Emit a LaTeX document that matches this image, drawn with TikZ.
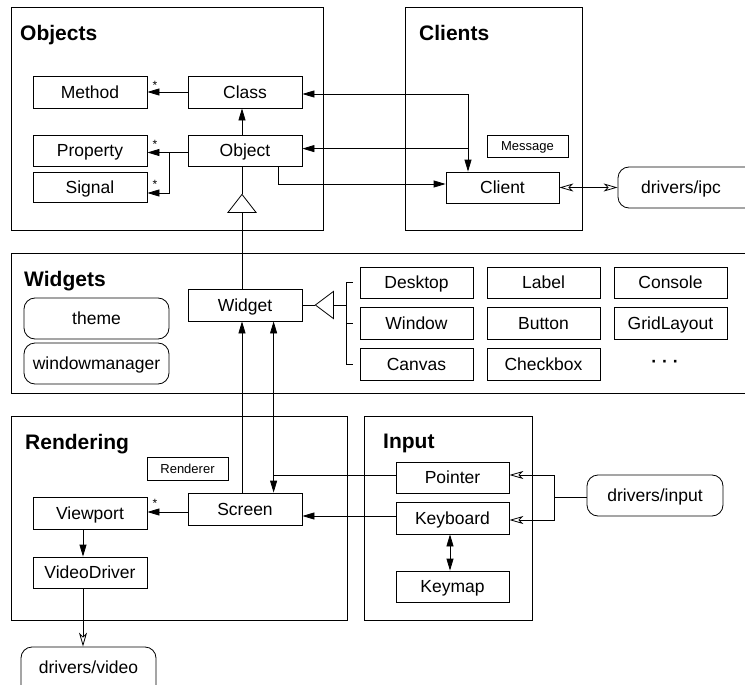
\documentclass[tikz,border=0pt]{standalone}
\usepackage{fontspec}
\setmainfont{Liberation Sans}
\usetikzlibrary{arrows.meta,calc}
\begin{document}
\begin{tikzpicture}[x=1pt,y=-1pt,
  frame/.style={draw, line width=0.9pt, inner sep=0pt},
  box/.style={draw, line width=0.8pt, fill=white, inner sep=0pt,
    minimum width=114pt, minimum height=32pt, text height=12.5pt, text depth=0pt,
    font=\fontsize{17.5}{20}\selectfont},
  smallbox/.style={draw, line width=0.8pt, inner sep=0pt,
    minimum width=81pt, minimum height=23pt, text height=9.4pt, text depth=0pt,
    font=\fontsize{13}{15}\selectfont},
  drv/.style={draw, rounded corners=11pt, line width=0.8pt, inner sep=0pt,
    minimum height=41pt, text height=12.5pt, text depth=0pt,
    font=\fontsize{17.5}{20}\selectfont},
  drvtext/.style={inner sep=0pt, text height=12.5pt, text depth=0pt,
    font=\fontsize{17.5}{20}\selectfont},
  title/.style={anchor=west, inner sep=0pt, text height=15pt, text depth=0pt,
    font=\fontsize{21}{24}\selectfont\bfseries},
  mult/.style={inner sep=0pt, font=\fontsize{12}{12}\selectfont},
  conn/.style={line width=0.8pt},
  arr/.style={-{Triangle[length=12pt,width=7pt]}},
  darr/.style={{Triangle[length=12pt,width=7pt]}-{Triangle[length=12pt,width=7pt]}},
  oarr/.style={-{Stealth[open,length=14pt,width=8pt,inset=4pt]}},
  doarr/.style={{Stealth[open,length=14pt,width=8pt,inset=4pt]}-{Stealth[open,length=14pt,width=8pt,inset=4pt]}},
]
\useasboundingbox (0,0) rectangle (745,685);

% package frames
\node[frame, minimum width=312pt, minimum height=223pt] (objects) at (167,118.5) {};
\node[title] (tobjects) at (20,33) {Objects};
\node[frame, minimum width=177pt, minimum height=223pt] (clients) at (493.5,118.5) {};
\node[title] (tclients) at (419,33) {Clients};
\node[frame, minimum width=738pt, minimum height=140pt] (widgets) at (380,323) {};
\node[title] (twidgets) at (24,279) {Widgets};
\node[frame, minimum width=336pt, minimum height=204pt] (rendering) at (179,518) {};
\node[title] (trendering) at (25,442) {Rendering};
\node[frame, minimum width=168pt, minimum height=204pt] (input) at (448,518) {};
\node[title] (tinput) at (383,441) {Input};

% Objects
\node[box] (method) at (90,92) {Method};
\node[box] (class) at (245,92) {Class};
\node[box, minimum height=31pt] (property) at (90,150.5) {Property};
\node[box, minimum height=31pt] (object) at (245,150.5) {Object};
\node[box, minimum height=30pt] (signal) at (90,187) {Signal};

% Clients
\node[smallbox, minimum height=22pt] (message) at (527.5,146) {Message};
\node[box, minimum width=113pt, minimum height=31pt] (client) at (502.5,187.5) {Client};
\node[drv, minimum width=146pt] (dipc) at (691,187.5) {};
\node[drvtext] (dipctext) at (681,187.5) {drivers/ipc};

% Widgets
\node[drv, minimum width=145pt] (theme) at (96.5,318.5) {theme};
\node[drv, minimum width=145pt] (wm) at (96.5,363.5) {windowmanager};
\node[box] (widget) at (245,305) {Widget};
\node[box, minimum width=113pt, minimum height=31pt] (desktop) at (416.5,282.5) {Desktop};
\node[box, minimum width=113pt, minimum height=31pt] (label) at (543.5,282.5) {Label};
\node[box, minimum width=113pt, minimum height=31pt] (console) at (670.5,282.5) {Console};
\node[box, minimum width=113pt, minimum height=32pt] (window) at (416.5,323) {Window};
\node[box, minimum width=113pt, minimum height=32pt] (button) at (543.5,323) {Button};
\node[box, minimum width=113pt, minimum height=32pt] (grid) at (670.5,323) {GridLayout};
\node[box, minimum width=113pt, minimum height=32pt] (canvas) at (416.5,364) {Canvas};
\node[box, minimum width=113pt, minimum height=32pt] (checkbox) at (543.5,364) {Checkbox};
\node[inner sep=0pt, font=\fontsize{17.5}{20}\selectfont\bfseries] (more) at (665,364) {·\hspace{5pt}·\hspace{5pt}·};

% Rendering
\node[smallbox] (renderer) at (187.5,468.5) {Renderer};
\node[box] (viewport) at (90,513) {Viewport};
\node[box] (screen) at (245,509) {Screen};
\node[box, minimum height=31pt] (videodriver) at (90,572.5) {VideoDriver};
\node[drv, minimum width=135pt, minimum height=50pt] (dvideo) at (88.5,672) {};
\node[drvtext] (dvideotext) at (88.5,667.5) {drivers/video};

% Input
\node[box, minimum width=113pt, minimum height=31pt] (pointer) at (452.5,477.5) {Pointer};
\node[box, minimum width=113pt, minimum height=32pt] (keyboard) at (452.5,518) {Keyboard};
\node[box, minimum width=113pt, minimum height=31pt] (keymap) at (452.5,586.5) {Keymap};
\node[drv, minimum width=136pt] (dinput) at (655,495.5) {drivers/input};

% multiplicities
\node[mult] (m1) at (155,85) {*};
\node[mult] (m2) at (155,144) {*};
\node[mult] (m3) at (155,184) {*};
\node[mult] (m4) at (155,503) {*};

% Objects connectors
\draw[conn, arr] (class.west) -- (method.east);
\draw[conn, arr] ([xshift=-3pt]object.north) -- ([xshift=-3pt]class.south);
\draw[conn, arr] ([yshift=-2pt]object.west) -- ([yshift=-2pt]property.east);
\coordinate (br) at ($([yshift=-2pt]property.east)+(22,0)$);
\draw[conn, arr] (br) |- ([yshift=-6pt]signal.east);

% inheritance Object <- Widget
\coordinate (otip) at ($([xshift=-3pt]object.south)+(0,28)$);
\coordinate (obase) at ($(otip)+(0,18)$);
\draw[conn] ([xshift=-3pt]object.south) -- (otip);
\draw[conn, fill=white] (otip) -- ++(-14,18) -- ++(28,0) -- cycle;
\draw[conn] (obase) -- ([xshift=-3pt]widget.north);

% Objects <-> Clients
\draw[conn, arr] ([xshift=33pt]object.south) |- ([yshift=3.5pt]client.west);
\draw[conn, darr] ([yshift=-2pt]class.east) -| ([xshift=-34.5pt]client.north);
\coordinate (cv) at ([xshift=-34.5pt,yshift=23pt]client.north);
\draw[conn, arr] (cv) -- (cv -| object.east);
\draw[conn, doarr] (client.east) -- (client.east -| dipc.west);

% inheritance Widget <- subclasses
\coordinate (wtip) at ($(widget.east)+(13,0)$);
\coordinate (wbase) at ($(wtip)+(18,0)$);
\coordinate (wbar) at ($(desktop.west |- widget.east)+(-13,0)$);
\draw[conn] (widget.east) -- (wtip);
\draw[conn, fill=white] (wtip) -- ++(18,-13.5) -- ++(0,27) -- cycle;
\draw[conn] (wbase) -- (wbar);
\draw[conn] ([xshift=-7pt]desktop.west) -- ++(-6,0) |- ([xshift=-7pt]canvas.west);
\draw[conn] ([xshift=-7pt]window.west) -- ++(-6,0);

% Rendering / Input connectors
\draw[conn, arr] ([xshift=-3pt]screen.north) -- ([xshift=-3pt]widget.south);
\coordinate (pj) at ($([yshift=2.5pt]pointer.west)+(-122,0)$);
\draw[conn] ([yshift=2.5pt]pointer.west) -- (pj);
\draw[conn, arr] (pj) -- (pj |- widget.south);
\draw[conn, arr] (pj) -- (pj |- screen.north);
\draw[conn, arr] ([yshift=2pt]keyboard.west) -- ([yshift=2pt]keyboard.west -| screen.east);
\draw[conn, darr] ([xshift=-2.5pt]keyboard.south) -- ([xshift=-2.5pt]keymap.north);
\draw[conn, arr] ([yshift=-3pt]screen.west) -- ([yshift=-3pt]screen.west -| viewport.east);
\draw[conn, arr] ([xshift=-7pt]viewport.south) -- ([xshift=-7pt]videodriver.north);
\draw[conn, oarr] ([xshift=-7pt]videodriver.south) -- ([xshift=-7pt]videodriver.south |- dvideo.north);

% drivers/input fan-out
\coordinate (ij) at ([xshift=-32pt,yshift=-2pt]dinput.west);
\draw[conn] ([yshift=-2pt]dinput.west) -- (ij);
\draw[conn, oarr] (ij) |- ([yshift=2.5pt]pointer.east);
\draw[conn, oarr] (ij) |- ([yshift=-2pt]keyboard.east);
\end{tikzpicture}
\end{document}
